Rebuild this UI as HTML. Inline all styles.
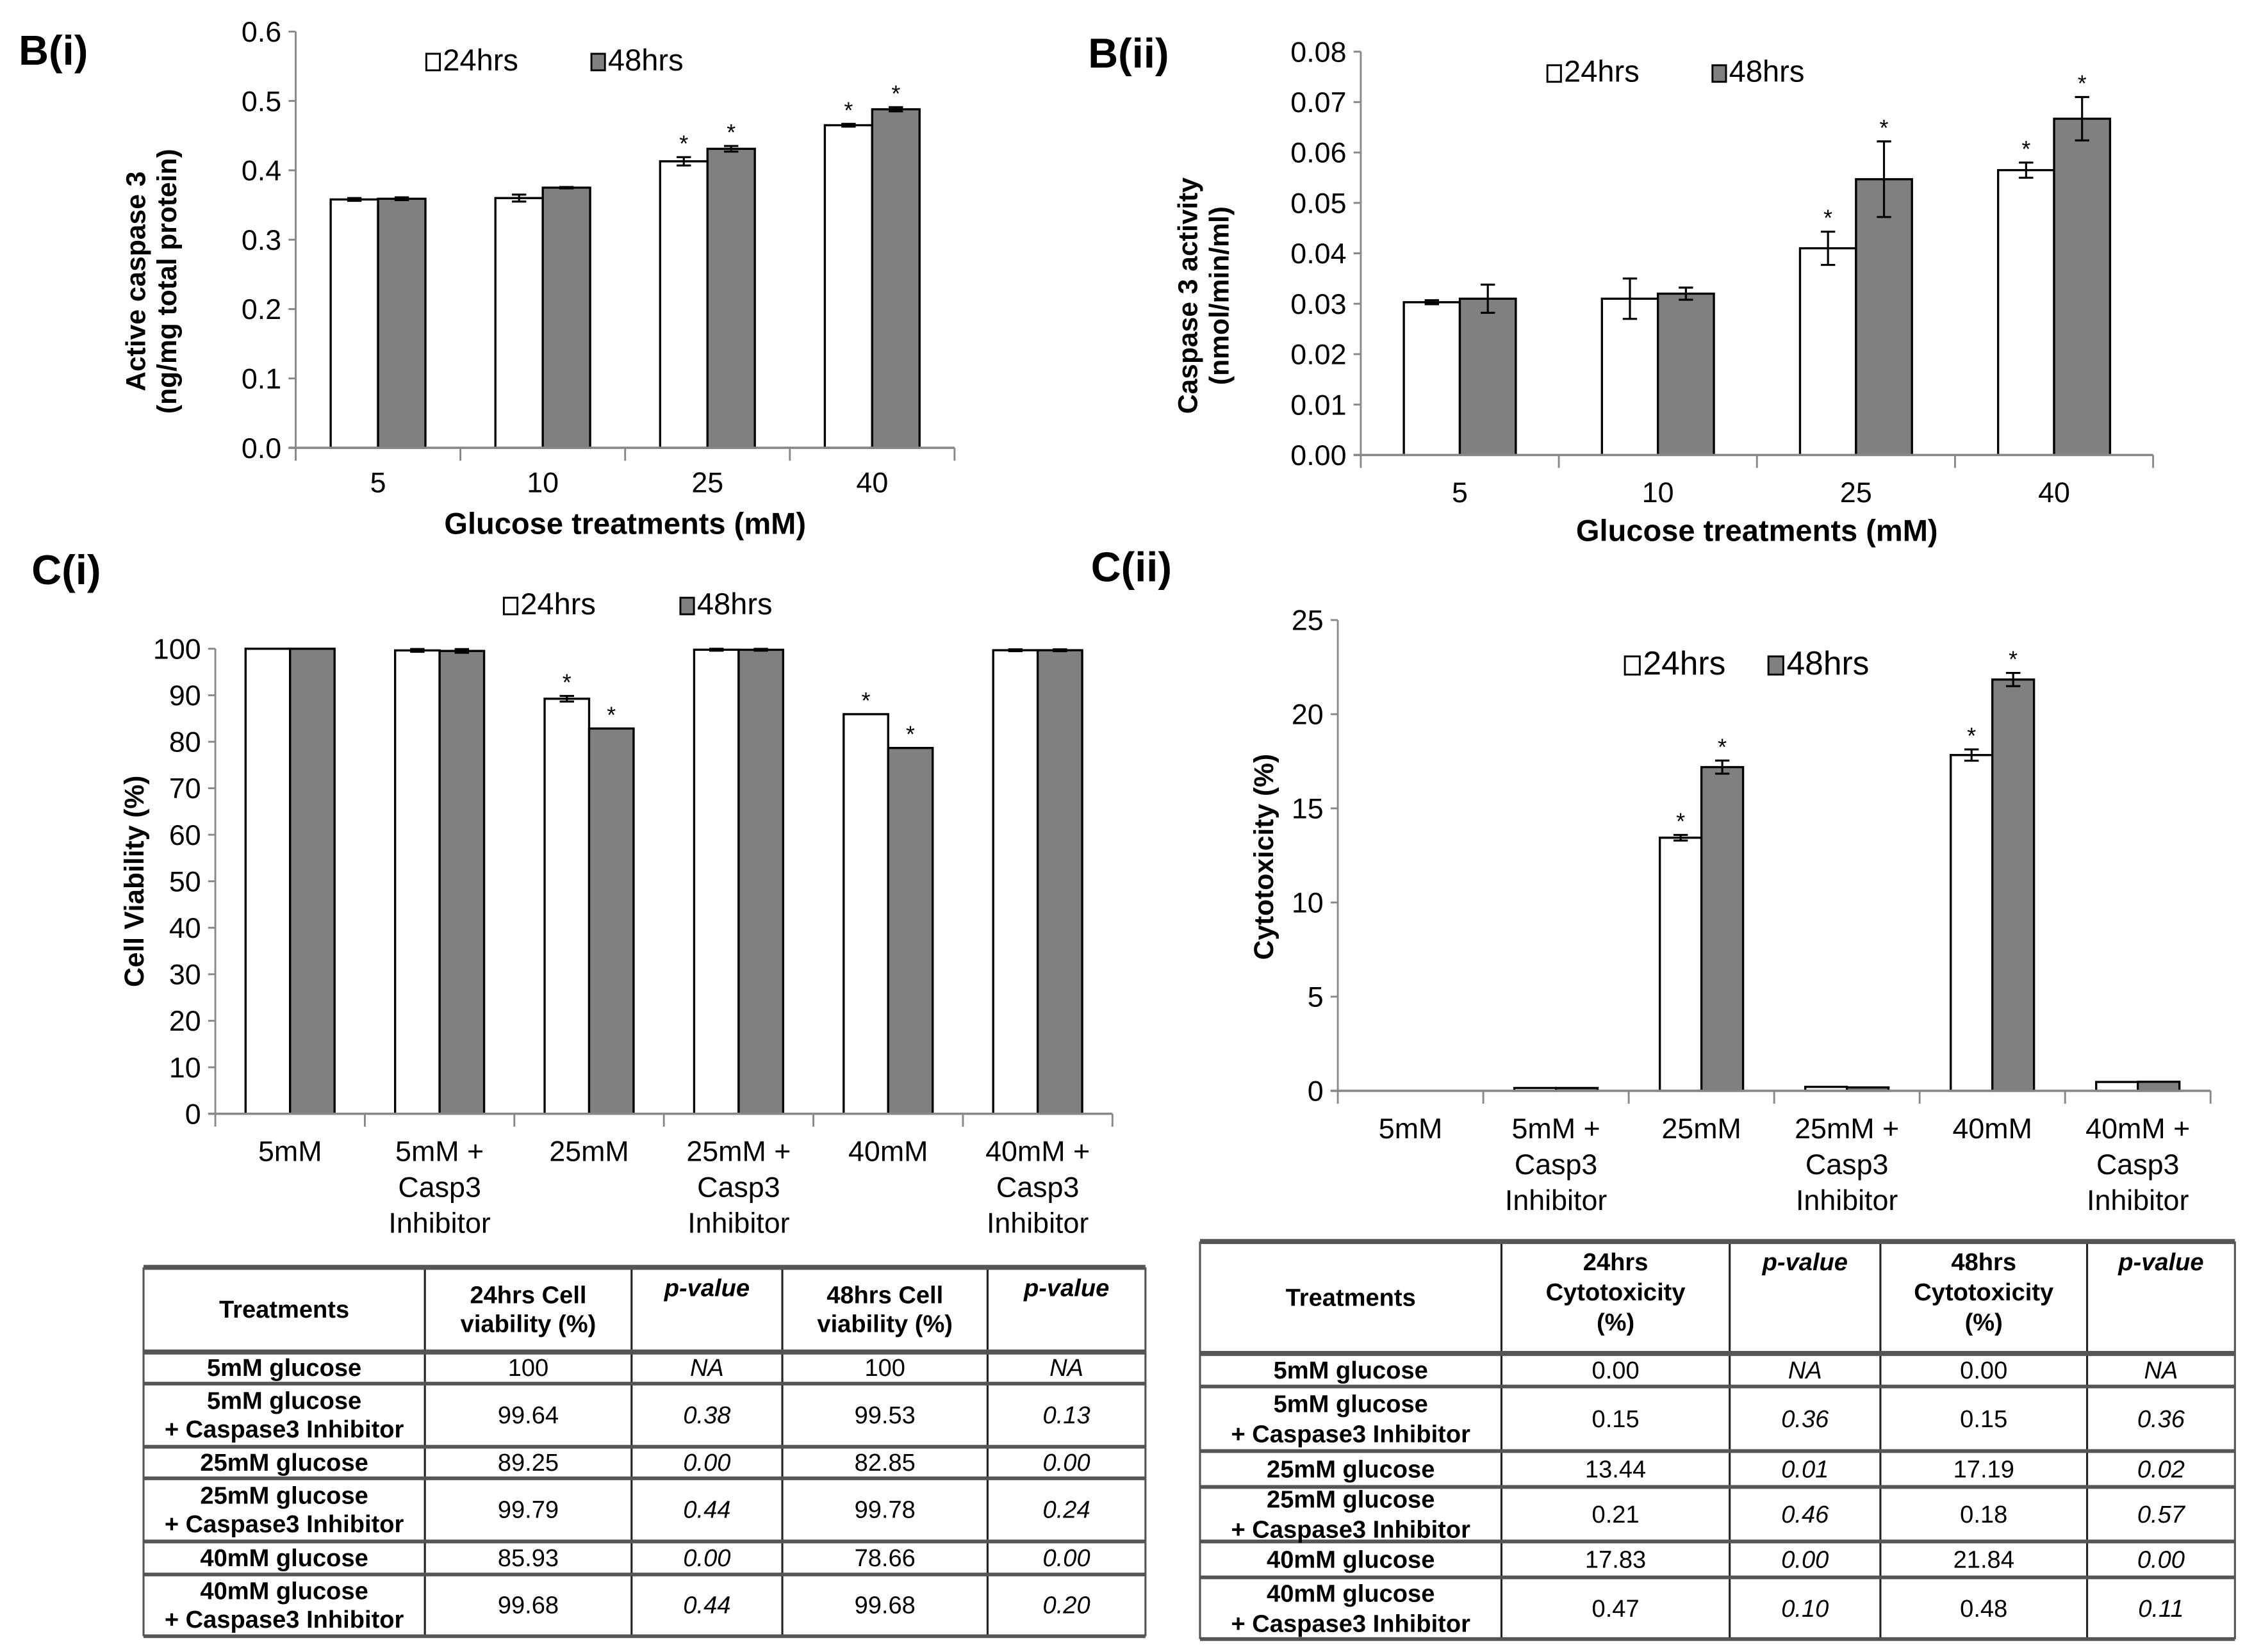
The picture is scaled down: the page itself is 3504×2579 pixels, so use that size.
<!DOCTYPE html>
<html><head><meta charset="utf-8"><style>
html,body{margin:0;padding:0;background:#fff}
svg{display:block}
text{font-family:"Liberation Sans Narrow","Liberation Sans",sans-serif;fill:#000}
.b{font-family:"Liberation Sans",sans-serif;font-weight:bold}
</style></head><body>
<svg id="fig" xmlns="http://www.w3.org/2000/svg" width="3504" height="2579" viewBox="0 0 1564 1151" preserveAspectRatio="none">
<rect width="1564" height="1151" fill="#fff"/>
</svg>
<script>
// ---- B(i) data ----
const biCats = ["5","10","25","40"];
const bi24 = [0.358,0.360,0.413,0.465];
const bi48 = [0.359,0.375,0.431,0.488];
const bi24err = [0.002,0.005,0.006,0.002];
const bi48err = [0.002,0.001,0.004,0.003];
const bi24sig = [0,0,1,1];
const bi48sig = [0,0,1,1];
const biTicks = ["0.0","0.1","0.2","0.3","0.4","0.5","0.6"];
// ---- B(ii) data ----
const biiCats = ["5","10","25","40"];
const bii24 = [0.0303,0.031,0.041,0.0565];
const bii48 = [0.031,0.032,0.0547,0.0667];
const bii24err = [0.0004,0.004,0.0033,0.0015];
const bii48err = [0.0028,0.0012,0.0075,0.0043];
const bii24sig = [0,0,1,1];
const bii48sig = [0,0,1,1];
const biiTicks = ["0.00","0.01","0.02","0.03","0.04","0.05","0.06","0.07","0.08"];
// ---- C(i) data ----
const ciCats = [["5mM"],["5mM +","Casp3","Inhibitor"],["25mM"],["25mM +","Casp3","Inhibitor"],["40mM"],["40mM +","Casp3","Inhibitor"]];
const ci24 = [100,99.64,89.25,99.79,85.93,99.68];
const ci48 = [100,99.53,82.85,99.78,78.66,99.68];
const ci24err = [0,0.3,0.6,0.2,0,0.2];
const ci48err = [0,0.4,0,0.2,0,0.2];
const ci24sig = [0,0,1,0,1,0];
const ci48sig = [0,0,1,0,1,0];
const ciTicks = ["0","10","20","30","40","50","60","70","80","90","100"];
// ---- C(ii) data ----
const ciiCats = ciCats;
const cii24 = [0,0.15,13.44,0.21,17.83,0.47];
const cii48 = [0,0.15,17.19,0.18,21.84,0.48];
const cii24err = [0,0,0.15,0,0.3,0];
const cii48err = [0,0,0.35,0,0.35,0];
const cii24sig = [0,0,1,0,1,0];
const cii48sig = [0,0,1,0,1,0];
const ciiTicks = ["0","5","10","15","20","25"];
// ---- tables ----
const tLeftHead = [["Treatments"],["24hrs Cell","viability (%)"],["p-value"],["48hrs Cell","viability (%)"],["p-value"]];
const tLeftRows = [
 [["5mM glucose"],"100","NA","100","NA"],
 [["5mM glucose","+ Caspase3 Inhibitor"],"99.64","0.38","99.53","0.13"],
 [["25mM glucose"],"89.25","0.00","82.85","0.00"],
 [["25mM glucose","+ Caspase3 Inhibitor"],"99.79","0.44","99.78","0.24"],
 [["40mM glucose"],"85.93","0.00","78.66","0.00"],
 [["40mM glucose","+ Caspase3 Inhibitor"],"99.68","0.44","99.68","0.20"]];
const tRightHead = [["Treatments"],["24hrs","Cytotoxicity","(%)"],["p-value"],["48hrs","Cytotoxicity","(%)"],["p-value"]];
const tRightRows = [
 [["5mM glucose"],"0.00","NA","0.00","NA"],
 [["5mM glucose","+ Caspase3 Inhibitor"],"0.15","0.36","0.15","0.36"],
 [["25mM glucose"],"13.44","0.01","17.19","0.02"],
 [["25mM glucose","+ Caspase3 Inhibitor"],"0.21","0.46","0.18","0.57"],
 [["40mM glucose"],"17.83","0.00","21.84","0.00"],
 [["40mM glucose","+ Caspase3 Inhibitor"],"0.47","0.10","0.48","0.11"]];

const NS="http://www.w3.org/2000/svg";
const svg=document.getElementById('fig');
function mk(tag,attrs,parent){const e=document.createElementNS(NS,tag);for(const k in attrs)e.setAttribute(k,attrs[k]);(parent||svg).appendChild(e);return e;}
function txt(s,x,y,size,parent,anchor,cls){const t=mk('text',{x:x,y:y,'font-size':size,'text-anchor':anchor||'middle'},parent);if(cls)t.setAttribute('class',cls);t.textContent=s;return t;}

function chart(o){
  const g=mk('g',{});
  
  
  const n=o.cats.length, gw=(o.x1-o.x0)/n;
  const yv=v=>o.yB-(v-o.min)/(o.max-o.min)*(o.yB-o.yT);
  // y axis
  const ya=mk('line',{x1:o.x0,y1:o.yT,x2:o.x0,y2:o.yB,stroke:'#888','stroke-width':1.3},g);
  
  
  o.ticks.forEach((t,i)=>{const v=o.min+(o.max-o.min)*i/(o.ticks.length-1);const y=yv(v);
    mk('line',{x1:o.x0-5,y1:y,x2:o.x0,y2:y,stroke:'#888','stroke-width':1.3},g);
    const tl=txt(t,o.x0-10,y+7,o.tfs,g,'end');
    
    });
  // bars
  for(let i=0;i<n;i++){
    const c=o.x0+gw*(i+0.5);
    [[o.s24,o.e24,o.g24,'#fff',c-o.bw],[o.s48,o.e48,o.g48,'#808080',c]].forEach((s,k)=>{
      const v=s[0][i], y=yv(v);
      const r=mk('rect',{x:s[4],y:y,width:o.bw,height:o.yB-y,fill:s[3],stroke:'#000','stroke-width':1.5},g);
      
      
      const e=s[1][i], bx=s[4]+o.bw/2;
      if(e>0){const yt=yv(v+e),yb=yv(v-e);
        mk('line',{x1:bx,y1:yt,x2:bx,y2:yb,stroke:'#000','stroke-width':1.4},g);
        mk('line',{x1:bx-5,y1:yt,x2:bx+5,y2:yt,stroke:'#000','stroke-width':1.4},g);
        mk('line',{x1:bx-5,y1:yb,x2:bx+5,y2:yb,stroke:'#000','stroke-width':1.4},g);}
      if(s[2][i]){const a=txt('*',bx,yv(v+e)-4,o.sfs,g);
        
        }
    });
    const lab=[].concat(o.cats[i]);
    lab.forEach((l,j)=>{const t=txt(l,c,o.ly+j*o.lh,o.cfs,g);
      
      });
  }
  // x axis
  const xa=mk('line',{x1:o.x0-5,y1:o.yB,x2:o.x1,y2:o.yB,stroke:'#888','stroke-width':1.6},g);
  
  
  for(let i=0;i<=n;i++){const x=o.x0+gw*i;mk('line',{x1:x,y1:o.yB,x2:x,y2:o.yB+9,stroke:'#888','stroke-width':1.3},g);}
  // legend
  const lg=mk('g',{},g);
  
  
  mk('rect',{x:o.lx,y:o.legY-o.lfs*0.55,width:o.lfs*0.45,height:o.lfs*0.55,fill:'#fff',stroke:'#000','stroke-width':1.3},lg);
  txt('24hrs',o.lx+o.lfs*0.55,o.legY,o.lfs,lg,'start');
  mk('rect',{x:o.lx2,y:o.legY-o.lfs*0.55,width:o.lfs*0.45,height:o.lfs*0.55,fill:'#808080',stroke:'#000','stroke-width':1.3},lg);
  txt('48hrs',o.lx2+o.lfs*0.55,o.legY,o.lfs,lg,'start');
  // title
  const ti=txt(o.title,o.tx,o.ty,29,g,'start','b');
  
  
  // y label
  o.ylab.forEach((l,j)=>{const t=txt(l,0,0,o.ylfs,g,'middle',o.ylb?'b':null);
    t.setAttribute('transform','translate('+(o.ylx+j*o.ylfs*1.15)+','+o.yly+') rotate(-90)');
    
    });
  if(o.xt){const t=txt(o.xt,(o.x0+o.x1)/2,o.xty,21,g,'middle','b');
    
    }
}

chart({name:'chart-bi',cats:biCats,s24:bi24,s48:bi48,e24:bi24err,e48:bi48err,g24:bi24sig,g48:bi48sig,ticks:biTicks,
 min:0,max:0.6,x0:206,x1:665,yT:22,yB:312,bw:33,tfs:20,sfs:16,cfs:20,ly:343,lh:25,
 lx:297,lx2:412,legY:49,lfs:21,title:'B(i)',tx:13,ty:45,ylab:['Active caspase 3','(ng/mg total protein)'],ylfs:19,ylb:1,ylx:101,yly:196,xt:'Glucose treatments (mM)',xty:372});
chart({name:'chart-bii',cats:biiCats,s24:bii24,s48:bii48,e24:bii24err,e48:bii48err,g24:bii24sig,g48:bii48sig,ticks:biiTicks,
 min:0,max:0.08,x0:948,x1:1500,yT:36,yB:317,bw:39,tfs:20,sfs:16,cfs:20,ly:350,lh:25,
 lx:1078,lx2:1193,legY:57,lfs:21,title:'B(ii)',tx:758,ty:47,ylab:['Caspase 3 activity','(nmol/min/ml)'],ylfs:19,ylb:1,ylx:834,yly:206,xt:'Glucose treatments (mM)',xty:377});
chart({name:'chart-ci',cats:ciCats,s24:ci24,s48:ci48,e24:ci24err,e48:ci48err,g24:ci24sig,g48:ci48sig,ticks:ciTicks,
 min:0,max:100,x0:150,x1:775,yT:452,yB:776,bw:31,tfs:20,sfs:16,cfs:20,ly:809,lh:25,
 lx:351,lx2:474,legY:428,lfs:21,title:'C(i)',tx:22,ty:407,ylab:['Cell Viability (%)'],ylfs:19,ylb:1,ylx:100,yly:614});
chart({name:'chart-cii',cats:ciiCats,s24:cii24,s48:cii48,e24:cii24err,e48:cii48err,g24:cii24sig,g48:cii48sig,ticks:ciiTicks,
 min:0,max:25,x0:932,x1:1540,yT:432,yB:760,bw:29,tfs:20,sfs:16,cfs:20,ly:793,lh:25,
 lx:1132,lx2:1232,legY:470,lfs:23,title:'C(ii)',tx:760,ty:405,ylab:['Cytotoxicity (%)'],ylfs:19,ylb:1,ylx:887,yly:597});

function table(name,cols,rows,head,data,hl){
  const g=mk('g',{});
  
  
  const x0=cols[0],x1=cols[cols.length-1],y0=rows[0],y1=rows[rows.length-1];
  cols.forEach((x,i)=>mk('line',{x1:x,y1:y0,x2:x,y2:y1,stroke:(i==0||i==cols.length-1)?'#555':'#222','stroke-width':1.4},g));
  rows.forEach((y,i)=>mk('line',{x1:x0,y1:y,x2:x1,y2:y,stroke:'#555','stroke-width':i==1||i==0?3.5:2.6},g));
  const cell=(lines,ci,ya,yb,it,bold,top)=>{const cx=(cols[ci]+cols[ci+1])/2;const lh=hl;
    const total=lines.length*lh;let sy=top?ya+20:(ya+yb)/2-total/2+lh*0.78;
    lines.forEach((l,j)=>{const t=txt(l,cx,sy+j*lh,17,g,'middle',bold?'b':null);if(it)t.setAttribute('font-style','italic');});};
  head.forEach((h,i)=>cell(h,i,rows[0],rows[1],i==2||i==4,true,i==2||i==4||(i>0&&h.length==3)));
  data.forEach((r,ri)=>{
    const tr=mk('g',{},g);
    
    
    r.forEach((c,ci)=>cell([].concat(c),ci,rows[ri+1],rows[ri+2],ci==2||ci==4,ci==0,false));});
}
table('table-cell-viability',[100,296,440,545,688,798],[883,942,964,1008,1030,1074,1097,1140],tLeftHead,tLeftRows,20);
table('table-cytotoxicity',[836,1046,1205,1310,1454,1557],[865,943,966,1011,1036,1074,1099,1142],tRightHead,tRightRows,21);
</script>
</body></html>
